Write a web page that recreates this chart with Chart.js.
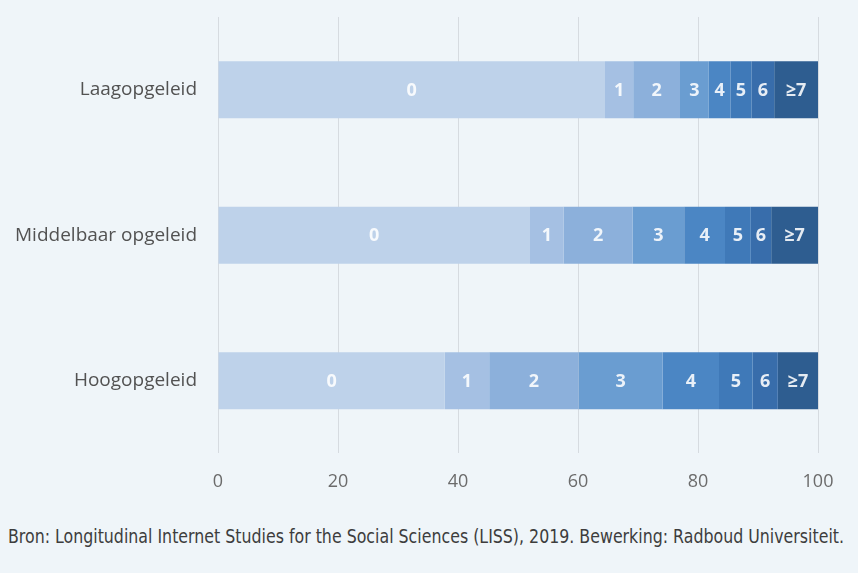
<!DOCTYPE html>
<html>
<head>
<meta charset="utf-8">
<script src="https://cdn.jsdelivr.net/npm/chart.js@4"></script>
<style>
    html, body { margin: 0; padding: 0; background: #eff5f9; }
    #wrap { position: relative; width: 858px; height: 573px; overflow: hidden; }
    #chart-box { position: absolute; left: 0; top: 0; width: 858px; height: 518px; }
    #source {
        position: absolute; left: 8px; top: 525px;
        font-family: "Liberation Sans Narrow", "DejaVu Sans Condensed", sans-serif;
        font-size: 19px; color: #3d3d3d; white-space: nowrap;
        transform-origin: left top;
    }
</style>
</head>
<body>
<div id="wrap">
    <div id="chart-box"><canvas id="eduChart" width="858" height="518"></canvas></div>
    <div id="source">Bron: Longitudinal Internet Studies for the Social Sciences (LISS), 2019. Bewerking: Radboud Universiteit.</div>
</div>
<script>
// Categories and series (percent per group)
const groups = ["Laagopgeleid", "Middelbaar opgeleid", "Hoogopgeleid"];
const seriesLabels = ["0", "1", "2", "3", "4", "5", "6", "≥7"];
const share0 = [64.5, 52.0, 37.8];
const share1 = [4.7, 5.6, 7.4];
const share2 = [7.8, 11.5, 14.9];
const share3 = [4.8, 8.6, 14.0];
const share4 = [3.6, 6.8, 9.4];
const share5 = [3.5, 4.3, 5.6];
const share6 = [3.8, 3.4, 4.2];
const share7 = [7.3, 7.8, 6.7];
const xTicks = [0, 20, 40, 60, 80, 100];

const seriesData = [share0, share1, share2, share3, share4, share5, share6, share7];
const seriesColors = [
    "#bed2ea",
    "#a5c0e3",
    "#8cb0db",
    "#6a9dd1",
    "#4b86c4",
    "#3f79b8",
    "#386dab",
    "#2e5d90",
];

// Draw the series label in the middle of every segment
const segmentLabels = {
    id: "segmentLabels",
    afterDatasetsDraw(chart) {
        const ctx = chart.ctx;
        ctx.save();
        ctx.font = "bold 18px 'Open Sans', sans-serif";
        ctx.fillStyle = "rgba(255, 255, 255, 0.88)";
        ctx.textAlign = "center";
        ctx.textBaseline = "middle";
        chart.data.datasets.forEach((ds, i) => {
            chart.getDatasetMeta(i).data.forEach((bar) => {
                const cx = (bar.x + bar.base) / 2;
                ctx.fillText(ds.label, cx, bar.y + 1);
            });
        });
        ctx.restore();
    },
};

document.addEventListener("DOMContentLoaded", function () {
    const ctx = document.getElementById("eduChart").getContext("2d");
    new Chart(ctx, {
        type: "bar",
        data: {
            labels: groups,
            datasets: seriesData.map((values, i) => ({
                label: seriesLabels[i],
                data: values,
                backgroundColor: seriesColors[i],
                borderWidth: 0,
                barPercentage: 0.8,
                categoryPercentage: 0.49,
            })),
        },
        options: {
            indexAxis: "y",
            responsive: false,
            animation: false,
            layout: {
                padding: { top: 17, right: 40, bottom: 7, left: 0 },
            },
            plugins: {
                legend: { display: false },
                tooltip: { enabled: false },
            },
            scales: {
                x: {
                    stacked: true,
                    min: 0,
                    max: 100,
                    afterBuildTicks: function (axis) {
                        axis.ticks = xTicks.map((v) => ({ value: v }));
                    },
                    grid: {
                        color: "#d6dbe0",
                        lineWidth: 1,
                        drawTicks: false,
                    },
                    border: { display: false },
                    ticks: {
                        padding: 18,
                        color: "#6b6b6b",
                        font: { family: "'Open Sans', sans-serif", size: 18 },
                    },
                },
                y: {
                    stacked: true,
                    grid: { display: false, drawTicks: false },
                    border: { display: false },
                    afterFit: function (axis) {
                        axis.width = 218;
                        // keep the tick padding from shrinking the plot vertically
                        axis.paddingTop = 0;
                        axis.paddingBottom = 0;
                    },
                    ticks: {
                        padding: 21,
                        color: "#525252",
                        font: { family: "'Open Sans', sans-serif", size: 19 },
                    },
                },
            },
        },
        plugins: [segmentLabels],
    });

    // Fit the source line to its width in the reference
    const src = document.getElementById("source");
    const w = src.getBoundingClientRect().width;
    if (w > 0) src.style.transform = "scaleX(" + (836 / w) + ")";
});
</script>
</body>
</html>
